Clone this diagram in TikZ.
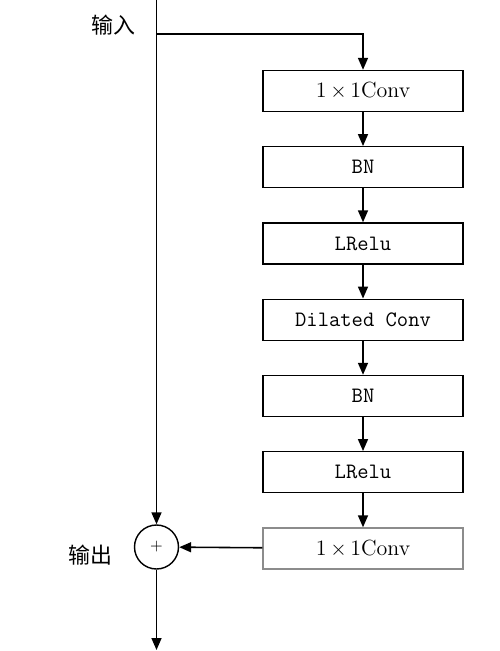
\documentclass[tikz,border=0pt]{standalone}
\usepackage{fontspec}
\newfontfamily\cjk{Noto Sans CJK SC}
\usetikzlibrary{positioning}
\usetikzlibrary{shapes.geometric, arrows.meta, positioning}
\tikzstyle{layer} = [rectangle, minimum width=4cm, minimum height=0.82cm, text centered, draw=black, line width=0.8pt, font=\fontsize{12.5}{14}\selectfont\ttfamily]
\tikzstyle{lastlayer} = [layer, draw=black!45]
\tikzstyle{adder} = [circle, minimum size=0.88cm, inner sep=0pt, draw=black, line width=0.8pt]
\tikzstyle{arrow} = [line width=0.9pt, -{Triangle[length=2.4mm,width=2mm]}]

\begin{document}
\begin{tikzpicture}[node distance=1.525cm]
\useasboundingbox (0,0) rectangle (10,-13.02);
\node (conv1) [layer] at (7.26,-1.82) {\rmfamily 1\,$\times$\,1Conv};
\node (bn1) [layer, below of=conv1] {BN};
\node (relu1) [layer, below of=bn1] {LRelu};
\node (dconv) [layer, below of=relu1] {Dilated Conv};
\node (bn2) [layer, below of=dconv] {BN};
\node (relu2) [layer, below of=bn2] {LRelu};
\node (conv2) [lastlayer, below of=relu2] {\rmfamily 1\,$\times$\,1Conv};
\node (plus) [adder] at (3.13,-10.94) {\small $+$};

\coordinate (input) at (3.13,0);
\coordinate (split) at (3.13,-0.68);
\coordinate (output) at (3.13,-13.0);
\node (inlabel) at (2.26,-0.5) {\cjk\fontsize{12.5}{14}\selectfont 输入};
\node (outlabel) at (1.8,-11.1) {\cjk\fontsize{12.5}{14}\selectfont 输出};

\draw [arrow] (input) -- (plus);
\draw [arrow] (split) -| (conv1);
\draw [arrow] (conv1) -- (bn1);
\draw [arrow] (bn1) -- (relu1);
\draw [arrow] (relu1) -- (dconv);
\draw [arrow] (dconv) -- (bn2);
\draw [arrow] (bn2) -- (relu2);
\draw [arrow] (relu2) -- (conv2);
\draw [arrow] (conv2) -- (plus);
\draw [arrow] (plus) -- (output);

\end{tikzpicture}
\end{document}
